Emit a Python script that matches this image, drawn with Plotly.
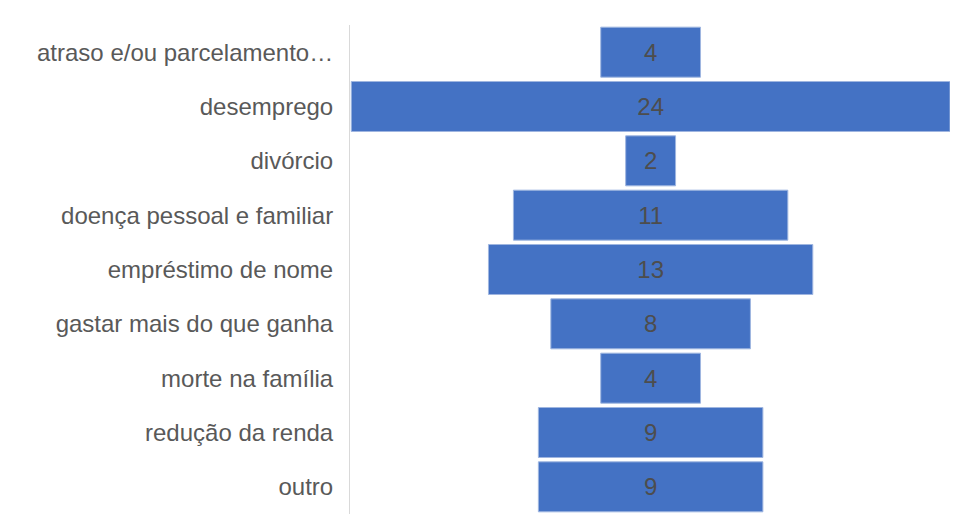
import plotly.graph_objects as go

categories = [
    "atraso e/ou parcelamento…",
    "desemprego",
    "divórcio",
    "doença pessoal e familiar",
    "empréstimo de nome",
    "gastar mais do que ganha",
    "morte na família",
    "redução da renda",
    "outro",
]
values = [4, 24, 2, 11, 13, 8, 4, 9, 9]

fig = go.Figure(
    go.Funnel(
        y=categories,
        x=values,
        textinfo="value",
        textposition="inside",
        insidetextfont=dict(family="Liberation Sans, Arial, sans-serif", size=24, color="#4d4d4d"),
        marker=dict(color="#4472C4", line=dict(width=1, color="#9fb6e0")),
        connector=dict(visible=False),
        hoverinfo="y+x",
    )
)

fig.update_layout(
    width=954,
    height=522,
    margin=dict(l=350, r=4, t=25, b=8),
    paper_bgcolor="white",
    plot_bgcolor="white",
    funnelgap=0.08,
    showlegend=False,
    xaxis=dict(visible=False, range=[-12.05, 12.0], fixedrange=True),
    yaxis=dict(
        showline=True,
        linecolor="#d9d9d9",
        linewidth=1,
        showgrid=False,
        ticks="",
        ticklabelstandoff=11,
        tickfont=dict(family="Liberation Sans, Arial, sans-serif", size=24, color="#595959"),
    ),
)

fig.write_html("out.html")
